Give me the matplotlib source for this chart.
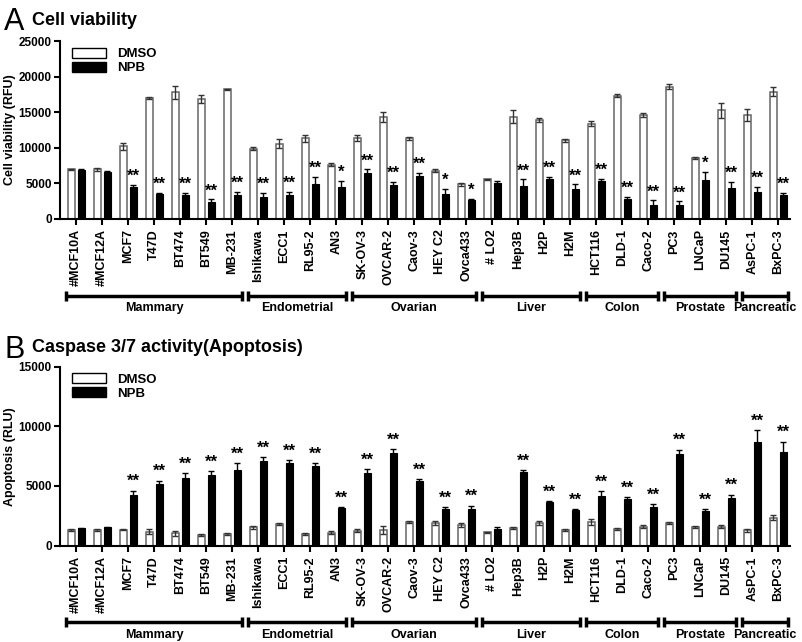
import numpy as np
import matplotlib
matplotlib.use('Agg')
import matplotlib.pyplot as plt
from matplotlib.patches import Patch

plt.rcParams['font.family'] = ['Liberation Sans', 'DejaVu Sans']
plt.rcParams['font.weight'] = 'bold'

cells = ['#MCF10A', '#MCF12A', 'MCF7', 'T47D', 'BT474', 'BT549', 'MB-231',
         'Ishikawa', 'ECC1', 'RL95-2', 'AN3',
         'SK-OV-3', 'OVCAR-2', 'Caov-3', 'HEY C2', 'Ovca433',
         '# LO2', 'Hep3B', 'H2P', 'H2M',
         'HCT116', 'DLD-1', 'Caco-2',
         'PC3', 'LNCaP', 'DU145',
         'AsPC-1', 'BxPC-3']
groups = [('Mammary', 0, 6), ('Endometrial', 7, 10), ('Ovarian', 11, 15),
          ('Liver', 16, 19), ('Colon', 20, 22), ('Prostate', 23, 25),
          ('Pancreatic', 26, 27)]

# panel A - cell viability (RFU)
via_dmso = [6950, 7000, 10200, 17000, 17800, 16850, 18200,
            9850, 10600, 11350, 7650,
            11350, 14350, 11350, 6800, 4850,
            5550, 14350, 13900, 11050,
            13400, 17350, 14600,
            18600, 8600, 15250,
            14600, 17900]
via_dmso_err = [100, 200, 500, 100, 900, 600, 100,
                200, 600, 500, 200,
                400, 700, 200, 200, 200,
                100, 900, 300, 200,
                400, 150, 300,
                400, 150, 1000,
                800, 600]
via_npb = [6900, 6600, 4550, 3550, 3350, 2350, 3350,
           3150, 3350, 4950, 4450,
           6450, 4800, 6100, 3450, 2600,
           5100, 4650, 5650, 4250,
           5300, 2850, 2000,
           1950, 5500, 4350,
           3800, 3300]
via_npb_err = [100, 100, 200, 100, 300, 400, 400,
               500, 400, 1000, 900,
               500, 400, 400, 800, 200,
               200, 900, 300, 600,
               300, 300, 600,
               500, 1100, 900,
               700, 400]
via_sig = ['', '', '**', '**', '**', '**', '**',
           '**', '**', '**', '*',
           '**', '**', '**', '*', '*',
           '', '**', '**', '**',
           '**', '**', '**',
           '**', '*', '**',
           '**', '**']

# panel B - caspase 3/7 activity (RLU)
apo_dmso = [1320, 1320, 1350, 1180, 1040, 880, 990,
            1540, 1820, 990, 1090,
            1260, 1320, 1960, 1880, 1740,
            1120, 1460, 1880, 1320,
            1960, 1400, 1600,
            1900, 1600, 1600,
            1290, 2350]
apo_dmso_err = [80, 100, 50, 200, 200, 60, 80,
                100, 100, 80, 120,
                100, 300, 100, 150, 150,
                60, 80, 150, 80,
                250, 100, 100,
                100, 80, 100,
                150, 200]
apo_npb = [1460, 1540, 4260, 5200, 5650, 5950, 6350,
           7100, 6900, 6700, 3170,
           6100, 7800, 5400, 3060, 3060,
           1400, 6200, 3620, 2950,
           4200, 3900, 3220,
           7700, 2930, 3980,
           8700, 7870]
apo_npb_err = [60, 60, 350, 250, 400, 300, 550,
               300, 250, 200, 50,
               300, 300, 150, 150, 300,
               150, 100, 120, 100,
               400, 200, 250,
               350, 150, 300,
               1000, 850]
apo_sig = ['', '', '**', '**', '**', '**', '**',
           '**', '**', '**', '**',
           '**', '**', '**', '**', '**',
           '', '**', '**', '**',
           '**', '**', '**',
           '**', '**', '**',
           '**', '**']

W = 0.27
OFF = 0.19
x = np.arange(len(cells))


def draw_panel(ax, dmso, dmso_err, npb, npb_err, sig, ymax, step, ylabel, ypad):
    ax.bar(x - OFF, dmso, W, color='white', edgecolor='#666666', linewidth=1.1,
           yerr=dmso_err, error_kw=dict(ecolor='#333333', elinewidth=1, capsize=2, capthick=1))
    ax.bar(x + OFF, npb, W, color='black', edgecolor='black', linewidth=0.8,
           yerr=npb_err, error_kw=dict(ecolor='black', elinewidth=1, capsize=2, capthick=1))
    for i, s in enumerate(sig):
        if s:
            ax.text(x[i] + OFF, npb[i] + npb_err[i] + ypad, s, ha='center', va='bottom',
                    fontsize=12, fontweight='bold')
    ax.set_xlim(-0.62, 27.45)
    ax.set_ylim(0, ymax)
    ax.set_yticks(np.arange(0, ymax + 1, step))
    ax.set_xticks(x)
    ax.set_xticklabels(cells, rotation=90, fontsize=9, fontweight='bold')
    ax.set_ylabel(ylabel, fontsize=9, fontweight='bold')
    ax.yaxis.set_label_coords(-0.060, 0.5)
    for lab in ax.get_yticklabels():
        lab.set_fontweight('bold')
        lab.set_fontsize(8.5)
    for side in ['top', 'right']:
        ax.spines[side].set_visible(False)
    for side in ['left', 'bottom']:
        ax.spines[side].set_linewidth(1.5)
    ax.tick_params(axis='both', width=1.5, length=4)
    ax.tick_params(axis='y', pad=2)

    leg = ax.legend(handles=[Patch(facecolor='white', edgecolor='black', label='DMSO'),
                             Patch(facecolor='black', edgecolor='black', label='NPB')],
                    loc='upper left', bbox_to_anchor=(0.0, 1.03), frameon=False,
                    fontsize=9.5, handlelength=2.6, handleheight=0.8, labelspacing=0.1)
    for t in leg.get_texts():
        t.set_fontweight('bold')


def draw_groups(ax, ybr, ylab):
    tr = ax.get_xaxis_transform()
    for name, a, b in groups:
        x0, x1 = a - 0.38, b + 0.38
        ax.plot([x0, x1], [ybr, ybr], color='black', lw=2.5, transform=tr, clip_on=False,
                solid_capstyle='butt')
        for xe in (x0, x1):
            ax.plot([xe, xe], [ybr - 0.028, ybr + 0.028], color='black', lw=2.5,
                    transform=tr, clip_on=False, solid_capstyle='butt')
        ax.text((x0 + x1) / 2, ylab, name, transform=tr, ha='center', va='center',
                fontsize=9, fontweight='bold')


fig = plt.figure(figsize=(8.02, 6.42), dpi=100)
ax1 = fig.add_axes([0.075, 0.659, 0.910, 0.277])
ax2 = fig.add_axes([0.075, 0.150, 0.910, 0.279])

draw_panel(ax1, via_dmso, via_dmso_err, via_npb, via_npb_err, via_sig,
           25000, 5000, 'Cell viability (RFU)', 150)
draw_panel(ax2, apo_dmso, apo_dmso_err, apo_npb, apo_npb_err, apo_sig,
           15000, 5000, 'Apoptosis (RLU)', 120)
draw_groups(ax1, -0.433, -0.50)
draw_groups(ax2, -0.425, -0.50)

fig.text(0.005, 0.965, 'A', fontsize=22, fontweight='normal', va='center')
fig.text(0.040, 0.968, 'Cell viability', fontsize=13, fontweight='bold', va='center')
fig.text(0.005, 0.455, 'B', fontsize=22, fontweight='normal', va='center')
fig.text(0.040, 0.458, 'Caspase 3/7 activity(Apoptosis)', fontsize=13, fontweight='bold',
         va='center')

fig.savefig('out.png', dpi=100)
